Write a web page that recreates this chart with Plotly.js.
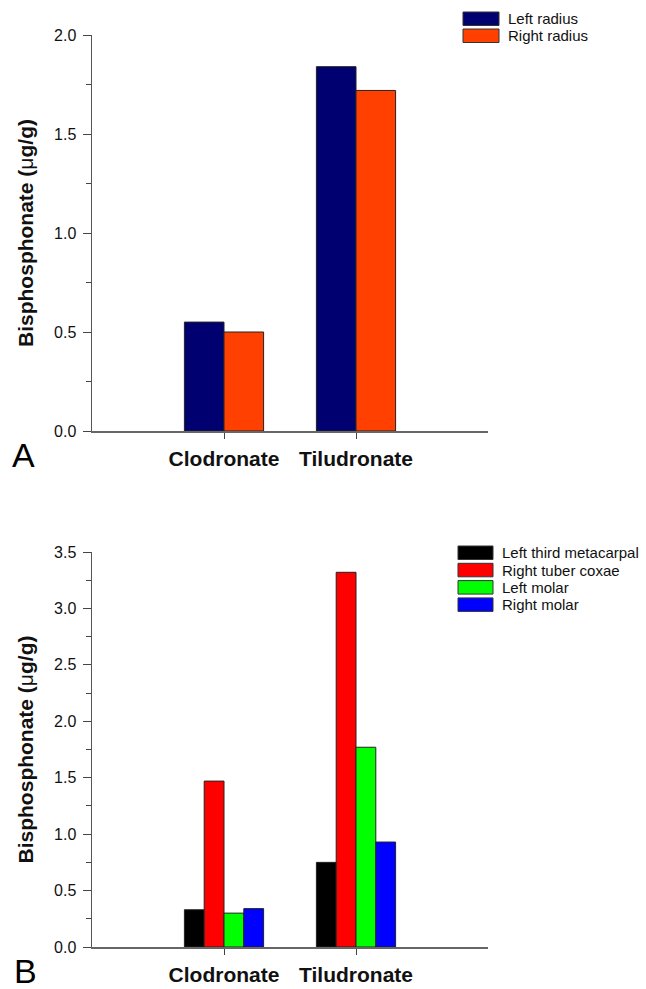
<!DOCTYPE html>
<html>
<head>
<meta charset="utf-8">
<script src="https://cdn.plot.ly/plotly-3.0.1.min.js"></script>
<style>html,body{margin:0;padding:0;background:#fff;}#chart{width:646px;height:989px;}</style>
</head>
<body>
<div id="chart"></div>
<script>
// ---- Data ----
const categories = ["Clodronate", "Tiludronate"];

// Panel A
const seriesA = ["Left radius", "Right radius"];
const leftRadius = [0.55, 1.84];
const rightRadius = [0.50, 1.72];
const valuesA = [leftRadius, rightRadius];
const colorsA = ["#000070", "#FF4000"];

// Panel B
const seriesB = ["Left third metacarpal", "Right tuber coxae", "Left molar", "Right molar"];
const leftThirdMetacarpal = [0.33, 0.75];
const rightTuberCoxae = [1.47, 3.32];
const leftMolar = [0.30, 1.77];
const rightMolar = [0.34, 0.93];
const valuesB = [leftThirdMetacarpal, rightTuberCoxae, leftMolar, rightMolar];
const colorsB = ["#000000", "#FF0000", "#00FF00", "#0000FF"];

const yTicksA = [0, 0.5, 1.0, 1.5, 2.0];
const yTicksB = [0, 0.5, 1.0, 1.5, 2.0, 2.5, 3.0, 3.5];

// ---- Layout geometry (pixels) ----
const W = 646, H = 989;
const M = {l: 92, r: 158, t: 35, b: 42};
const plotW = W - M.l - M.r, plotH = H - M.t - M.b;
const px = x => (x - M.l) / plotW;
const py = y => (H - M.b - y) / plotH;

const FONT = "'Liberation Sans', Arial, Helvetica, sans-serif";

const traces = [];
seriesA.forEach((name, i) => {
  traces.push({type: "bar", name, x: categories, y: valuesA[i], xaxis: "x", yaxis: "y",
    marker: {color: colorsA[i], line: {color: "#222", width: 1}}, showlegend: false});
});
seriesB.forEach((name, i) => {
  traces.push({type: "bar", name, x: categories, y: valuesB[i], xaxis: "x2", yaxis: "y2",
    marker: {color: colorsB[i], line: {color: "#222", width: 1}}, showlegend: false});
});

function yAxis(domain, ticks, range, anchor) {
  return {
    domain, range, anchor,
    tickvals: ticks, ticktext: ticks.map(v => v.toFixed(1)),
    ticks: "outside", ticklen: 8, tickwidth: 1, tickcolor: "#444",
    minor: {dtick: 0.25, ticks: "outside", ticklen: 5, tickcolor: "#444", tickwidth: 1, showgrid: false},
    showline: true, linecolor: "#555", linewidth: 1.5,
    showgrid: false, zeroline: false,
    tickfont: {family: FONT, size: 16, color: "#111"},
    ticklabelstandoff: 3,
    title: {text: "<b>Bisphosphonate (</b>μ<b>g/g)</b>", font: {family: FONT, size: 21, color: "#111"}, standoff: 14},
    fixedrange: true
  };
}
function xAxis(anchor) {
  return {
    anchor, range: [-1, 2], type: "category",
    ticks: "outside", ticklen: 6, tickwidth: 1, tickcolor: "#444",
    showline: true, linecolor: "#666", linewidth: 1.5,
    showgrid: false, zeroline: false,
    tickfont: {family: FONT, size: 21, color: "#111", weight: "bold"},
    ticklabelstandoff: 2,
    fixedrange: true
  };
}

const shapes = [], annotations = [];
function legend(names, colors, x0, x1, yTop, h, step, textX) {
  names.forEach((n, i) => {
    const y0 = yTop + i * step;
    shapes.push({type: "rect", xref: "paper", yref: "paper",
      x0: px(x0), x1: px(x1), y0: py(y0 + h), y1: py(y0),
      fillcolor: colors[i], line: {color: "#333", width: 1}});
    annotations.push({xref: "paper", yref: "paper", x: px(textX), y: py(y0 + h / 2),
      xanchor: "left", yanchor: "middle", text: n, showarrow: false,
      font: {family: FONT, size: 15, color: "#111"}});
  });
}
legend(seriesA, colorsA, 463, 499, 12, 13.5, 17, 506);
legend(seriesB, colorsB, 458, 493, 546, 13.5, 17.3, 500);

annotations.push({xref: "paper", yref: "paper", x: px(10), y: py(455), xanchor: "left", yanchor: "middle",
  text: "A", showarrow: false, font: {family: FONT, size: 34, color: "#000"}});
annotations.push({xref: "paper", yref: "paper", x: px(12), y: py(971), xanchor: "left", yanchor: "middle",
  text: "B", showarrow: false, font: {family: FONT, size: 34, color: "#000"}});

const layout = {
  width: W, height: H,
  margin: M,
  paper_bgcolor: "#fff", plot_bgcolor: "#fff",
  barmode: "group", bargap: 0.4, bargroupgap: 0,
  showlegend: false,
  font: {family: FONT},
  xaxis: xAxis("y"),
  yaxis: yAxis([py(431), 1], yTicksA, [0, 2.0], "x"),
  xaxis2: xAxis("y2"),
  yaxis2: yAxis([0, py(552)], yTicksB, [0, 3.5], "x2"),
  shapes, annotations
};

Plotly.newPlot("chart", traces, layout, {displayModeBar: false, staticPlot: true});
</script>
</body>
</html>
